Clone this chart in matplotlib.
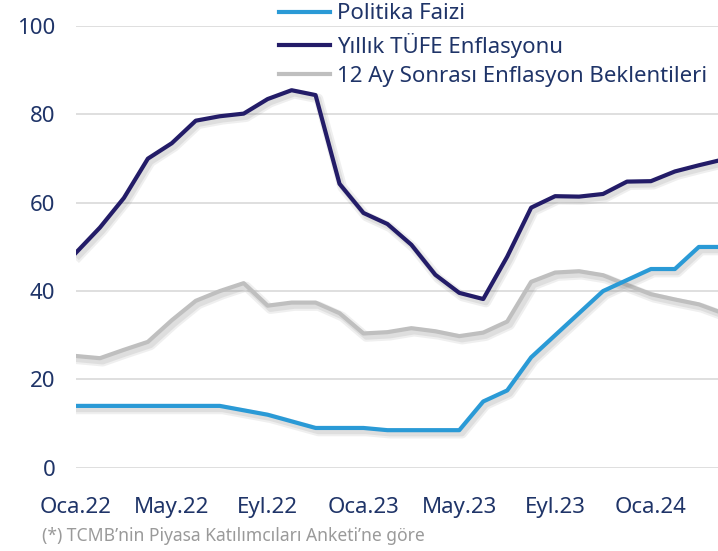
import numpy as np
import matplotlib.pyplot as plt
import matplotlib.patheffects as pe

plt.rcParams['font.family'] = ['Noto Sans', 'DejaVu Sans']

# aylar: Oca.22 - Nis.24
aylar = ['Oca.22', 'Şub.22', 'Mar.22', 'Nis.22', 'May.22', 'Haz.22', 'Tem.22', 'Ağu.22',
         'Eyl.22', 'Eki.22', 'Kas.22', 'Ara.22', 'Oca.23', 'Şub.23', 'Mar.23', 'Nis.23',
         'May.23', 'Haz.23', 'Tem.23', 'Ağu.23', 'Eyl.23', 'Eki.23', 'Kas.23', 'Ara.23',
         'Oca.24', 'Şub.24', 'Mar.24', 'Nis.24']

politika_faizi = [14, 14, 14, 14, 14, 14, 14, 13, 12, 10.5, 9, 9, 9, 8.5, 8.5, 8.5,
                  8.5, 15, 17.5, 25, 30, 35, 40, 42.5, 45, 45, 50, 50]
tufe = [48.7, 54.4, 61.1, 70.0, 73.5, 78.6, 79.6, 80.2, 83.5, 85.5, 84.4, 64.3,
        57.7, 55.2, 50.5, 43.7, 39.6, 38.2, 47.8, 58.9, 61.5, 61.4, 62.0, 64.8,
        64.9, 67.1, 68.5, 69.8]
beklenti = [25.3, 24.8, 26.7, 28.5, 33.4, 37.8, 40.0, 41.8, 36.7, 37.4, 37.4, 35.0,
            30.4, 30.7, 31.6, 30.9, 29.8, 30.6, 33.1, 42.1, 44.2, 44.5, 43.6, 41.4,
            39.3, 38.1, 37.0, 35.0]

renk_yazi = '#1F3468'
x = np.arange(len(aylar))

fig = plt.figure(figsize=(7.18, 5.51), dpi=100)
ax = fig.add_axes([76 / 718, 1 - 467.7 / 551, 1 - 76 / 718, (467.7 - 26.2) / 551])

# yumusak golge
golge = [pe.SimpleLineShadow(offset=(2, -2.5), shadow_color='#808080', alpha=0.12, linewidth=7),
         pe.SimpleLineShadow(offset=(2, -2.5), shadow_color='#808080', alpha=0.15, linewidth=4),
         pe.Normal()]

ax.plot(x, politika_faizi, color='#2A9AD6', lw=3, label='Politika Faizi', path_effects=golge, zorder=4)
ax.plot(x, tufe, color='#231C68', lw=3, label='Yıllık TÜFE Enflasyonu', path_effects=golge, zorder=5)
ax.plot(x, beklenti, color='#BFBFBF', lw=3, label='12 Ay Sonrası Enflasyon Beklentileri',
        path_effects=golge, zorder=3)

ax.set_xlim(0, 26.8)
ax.set_ylim(0, 100)
ax.set_yticks([0, 20, 40, 60, 80, 100])
ax.set_xticks(x[::4])
ax.set_xticklabels(aylar[::4])
ax.grid(axis='y', color='#D9D9D9', lw=1.2)
ax.set_axisbelow(True)
for s in ax.spines.values():
    s.set_visible(False)
ax.tick_params(length=0, labelsize=16, colors=renk_yazi)
ax.tick_params(axis='y', pad=15)
ax.tick_params(axis='x', pad=21)

leg = ax.legend(loc='upper left', bbox_to_anchor=(270 / 718, 1.01), bbox_transform=fig.transFigure,
                frameon=False, fontsize=16, handlelength=2.3, handletextpad=0.3, labelspacing=0.38,
                borderaxespad=0)
for t in leg.get_texts():
    t.set_color(renk_yazi)
for h in leg.get_lines():
    h.set_path_effects([])

fig.text(42 / 718, 1 - 536 / 551, "(*) TCMB’nin Piyasa Katılımcıları Anketi’ne göre",
         fontsize=12.6, color='#9A9A9A', va='center')

fig.savefig('out.png', dpi=100)
